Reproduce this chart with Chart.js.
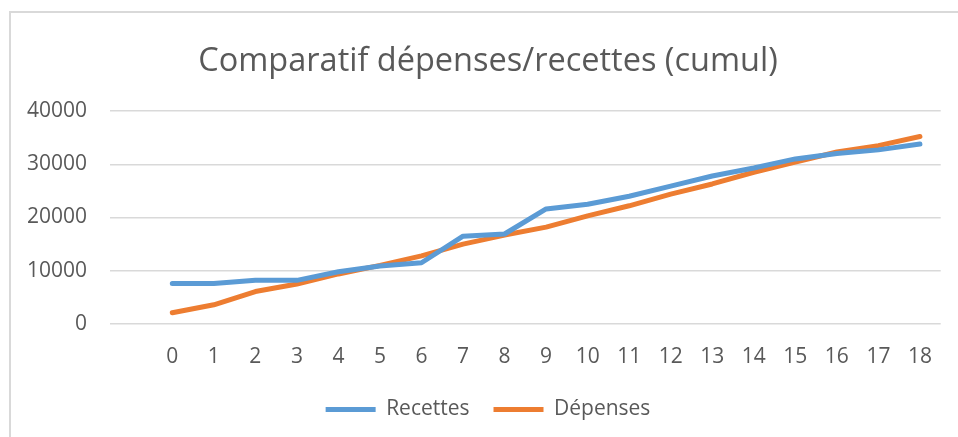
<!DOCTYPE html>
<html>
<head>
<meta charset="utf-8">
<script src="https://cdn.jsdelivr.net/npm/chart.js@4.4.1/dist/chart.umd.min.js"></script>
<style>
  html, body { margin: 0; padding: 0; background: #fff; overflow: hidden; }
  #frame { position: absolute; left: 9px; top: 11px; width: 1000px; height: 500px;
           border-left: 2px solid #d9d9d9; border-top: 2px solid #d9d9d9; }
  #wrap { position: absolute; left: 0; top: 0; width: 976px; height: 437px; }
</style>
</head>
<body>
<div id="frame"></div>
<div id="wrap"><canvas id="chart"></canvas></div>
<script>
/* Comparatif dépenses / recettes, montants cumulés */
const categories = ['0','1','2','3','4','5','6','7','8','9','10','11','12','13','14','15','16','17','18'];
const recettes = [7600, 7600, 8200, 8200, 9800, 10900, 11500, 16500, 16900, 21600, 22500, 24000, 25900, 27800, 29300, 31000, 32000, 32700, 33800];
const depenses = [2100, 3600, 6100, 7500, 9400, 11000, 12800, 15000, 16700, 18200, 20300, 22200, 24400, 26300, 28500, 30400, 32300, 33500, 35200];
const yTicks = [0, 10000, 20000, 30000, 40000];

// Excel laisse une catégorie vide avant 0
const labels = [''].concat(categories);

const gris = '#595959';
const police = "'Open Sans', sans-serif";

new Chart(document.getElementById('chart'), {
  type: 'line',
  data: {
    labels: labels,
    datasets: [{
      label: 'Recettes',
      data: [null].concat(recettes),
      borderColor: '#5B9BD5',
      backgroundColor: '#5B9BD5',
      borderWidth: 5,
      borderCapStyle: 'round',
      borderJoinStyle: 'round',
      pointRadius: 0,
      tension: 0
    }, {
      label: 'Dépenses',
      data: [null].concat(depenses),
      borderColor: '#ED7D31',
      backgroundColor: '#ED7D31',
      borderWidth: 5,
      borderCapStyle: 'round',
      borderJoinStyle: 'round',
      pointRadius: 0,
      tension: 0
    }]
  },
  options: {
    responsive: true,
    maintainAspectRatio: false,
    animation: false,
    layout: { padding: { left: 0, right: 0, top: 0, bottom: 7 } },
    plugins: {
      title: {
        display: true,
        text: 'Comparatif dépenses/recettes (cumul)',
        color: gris,
        font: { family: police, size: 32.5, weight: 'normal' },
        padding: { top: 42, bottom: 30 }
      },
      legend: {
        position: 'bottom',
        labels: {
          color: gris,
          font: { family: police, size: 21 },
          usePointStyle: true,
          pointStyle: 'line',
          pointStyleWidth: 50,
          padding: 24
        }
      },
      tooltip: { enabled: false }
    },
    scales: {
      x: {
        offset: true,
        afterFit: (scale) => { scale.height = 51; },
        grid: { display: false, drawTicks: false },
        border: { display: false },
        ticks: { color: gris, font: { family: police, size: 21 }, padding: 20, maxRotation: 0, autoSkip: false }
      },
      y: {
        min: 0,
        max: 40000,
        afterFit: (scale) => { scale.width = 110; },
        afterBuildTicks: (scale) => { scale.ticks = yTicks.map(v => ({ value: v })); },
        grid: { color: '#d9d9d9', lineWidth: 1.5, drawTicks: false },
        border: { display: false },
        ticks: { color: gris, font: { family: police, size: 21 }, padding: 23, callback: (v) => String(v) }
      },
      // marge droite vide, pour centrer titre et légende comme Excel
      marge: {
        position: 'right',
        afterFit: (scale) => { scale.width = 35.3; },
        grid: { display: false, drawTicks: false },
        border: { display: false },
        ticks: { display: false }
      }
    }
  }
});
</script>
</body>
</html>
